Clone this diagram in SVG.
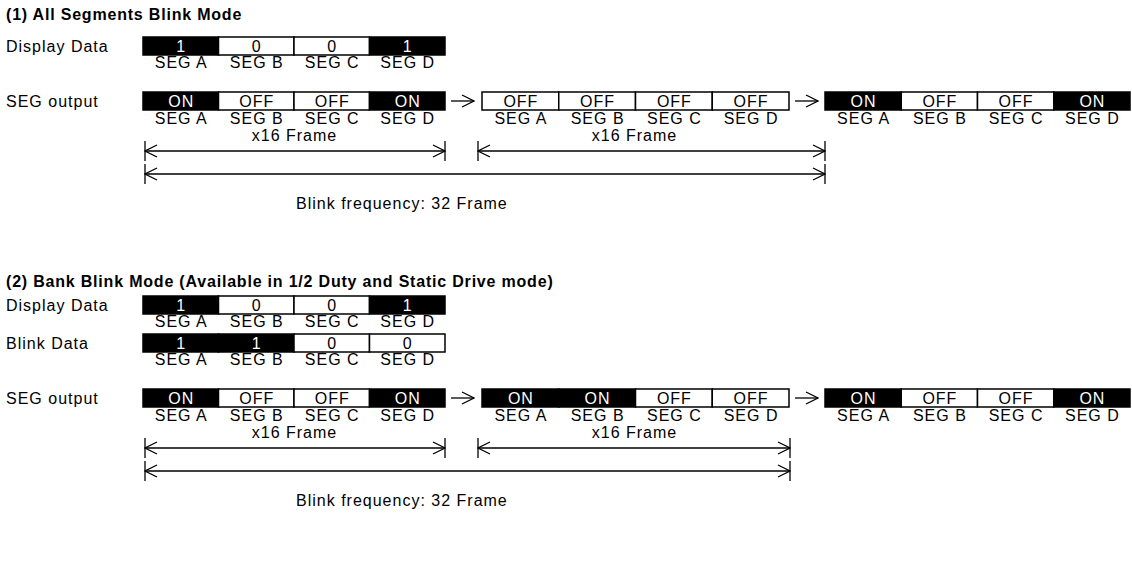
<svg xmlns="http://www.w3.org/2000/svg" width="1132" height="561" viewBox="0 0 1132 561">
<defs>
<style>
text{font-family:"Liberation Sans",Arial,sans-serif;font-size:16px;letter-spacing:1px;fill:#000}
.t{font-weight:bold;letter-spacing:0.8px}
.c{text-anchor:middle}
.w{fill:#fff}
.b{fill:#000;stroke:#000;stroke-width:1.5}
.o{fill:#fff;stroke:#000;stroke-width:1.5}
.ln{stroke:#000;stroke-width:1.3;fill:none}
</style>
<marker id="ah" viewBox="0 0 14 14" refX="13" refY="7" markerWidth="14" markerHeight="14" markerUnits="userSpaceOnUse" orient="auto-start-reverse">
<path d="M1,1 L13,7 L1,13" fill="none" stroke="#000" stroke-width="1.3"/>
</marker>
</defs>
<rect width="1132" height="561" fill="#fff"/>

<text class="t" x="6" y="20">(1) All Segments Blink Mode</text>
<text x="6" y="51.5">Display Data</text>
<text x="6" y="106.5">SEG output</text>

<g id="dd1">
<rect class="b" x="143" y="37" width="75.5" height="18"/>
<rect class="o" x="218.5" y="37" width="75.5" height="18"/>
<rect class="o" x="294" y="37" width="75.5" height="18"/>
<rect class="b" x="369.5" y="37" width="75.5" height="18"/>
<text class="c w" x="181.25" y="51.5">1</text>
<text class="c" x="256.75" y="51.5">0</text>
<text class="c" x="332.25" y="51.5">0</text>
<text class="c w" x="407.75" y="51.5">1</text>
<text class="c" x="181.25" y="68">SEG A</text>
<text class="c" x="256.75" y="68">SEG B</text>
<text class="c" x="332.25" y="68">SEG C</text>
<text class="c" x="407.75" y="68">SEG D</text>
</g>

<g id="so1a">
<rect class="b" x="143" y="92" width="75.5" height="18"/>
<rect class="o" x="218.5" y="92" width="75.5" height="18"/>
<rect class="o" x="294" y="92" width="75.5" height="18"/>
<rect class="b" x="369.5" y="92" width="75.5" height="18"/>
<text class="c w" x="181.25" y="106.5">ON</text>
<text class="c" x="256.75" y="106.5">OFF</text>
<text class="c" x="332.25" y="106.5">OFF</text>
<text class="c w" x="407.75" y="106.5">ON</text>
<text class="c" x="181.25" y="124">SEG A</text>
<text class="c" x="256.75" y="124">SEG B</text>
<text class="c" x="332.25" y="124">SEG C</text>
<text class="c" x="407.75" y="124">SEG D</text>
</g>

<g id="so1b">
<rect class="o" x="482" y="92" width="76.75" height="18"/>
<rect class="o" x="558.75" y="92" width="76.75" height="18"/>
<rect class="o" x="635.5" y="92" width="76.75" height="18"/>
<rect class="o" x="712.25" y="92" width="76.75" height="18"/>
<text class="c" x="520.9" y="106.5">OFF</text>
<text class="c" x="597.6" y="106.5">OFF</text>
<text class="c" x="674.4" y="106.5">OFF</text>
<text class="c" x="751.1" y="106.5">OFF</text>
<text class="c" x="520.9" y="124">SEG A</text>
<text class="c" x="597.6" y="124">SEG B</text>
<text class="c" x="674.4" y="124">SEG C</text>
<text class="c" x="751.1" y="124">SEG D</text>
</g>

<g id="so1c">
<rect class="b" x="825" y="92" width="76.25" height="18"/>
<rect class="o" x="901.25" y="92" width="76.25" height="18"/>
<rect class="o" x="977.5" y="92" width="76.25" height="18"/>
<rect class="b" x="1053.75" y="92" width="76.25" height="18"/>
<text class="c w" x="863.6" y="106.5">ON</text>
<text class="c" x="939.9" y="106.5">OFF</text>
<text class="c" x="1016.1" y="106.5">OFF</text>
<text class="c w" x="1092.4" y="106.5">ON</text>
<text class="c" x="863.6" y="124">SEG A</text>
<text class="c" x="939.9" y="124">SEG B</text>
<text class="c" x="1016.1" y="124">SEG C</text>
<text class="c" x="1092.4" y="124">SEG D</text>
</g>

<text class="c" x="294.5" y="140.5">x16 Frame</text>
<text class="c" x="634.5" y="140.5">x16 Frame</text>
<text x="296" y="209">Blink frequency: 32 Frame</text>

<text class="t" x="6" y="287">(2) Bank Blink Mode (Available in 1/2 Duty and Static Drive mode)</text>
<text x="6" y="310.5">Display Data</text>
<text x="6" y="348.5">Blink Data</text>
<text x="6" y="403.5">SEG output</text>

<g id="dd2">
<rect class="b" x="143" y="296" width="75.5" height="18"/>
<rect class="o" x="218.5" y="296" width="75.5" height="18"/>
<rect class="o" x="294" y="296" width="75.5" height="18"/>
<rect class="b" x="369.5" y="296" width="75.5" height="18"/>
<text class="c w" x="181.25" y="310.5">1</text>
<text class="c" x="256.75" y="310.5">0</text>
<text class="c" x="332.25" y="310.5">0</text>
<text class="c w" x="407.75" y="310.5">1</text>
<text class="c" x="181.25" y="327">SEG A</text>
<text class="c" x="256.75" y="327">SEG B</text>
<text class="c" x="332.25" y="327">SEG C</text>
<text class="c" x="407.75" y="327">SEG D</text>
</g>

<g id="bd2">
<rect class="b" x="143" y="334" width="75.5" height="18"/>
<rect class="b" x="218.5" y="334" width="75.5" height="18"/>
<rect class="o" x="294" y="334" width="75.5" height="18"/>
<rect class="o" x="369.5" y="334" width="75.5" height="18"/>
<text class="c w" x="181.25" y="348.5">1</text>
<text class="c w" x="256.75" y="348.5">1</text>
<text class="c" x="332.25" y="348.5">0</text>
<text class="c" x="407.75" y="348.5">0</text>
<text class="c" x="181.25" y="365">SEG A</text>
<text class="c" x="256.75" y="365">SEG B</text>
<text class="c" x="332.25" y="365">SEG C</text>
<text class="c" x="407.75" y="365">SEG D</text>
</g>

<g id="so2a">
<rect class="b" x="143" y="389" width="75.5" height="18"/>
<rect class="o" x="218.5" y="389" width="75.5" height="18"/>
<rect class="o" x="294" y="389" width="75.5" height="18"/>
<rect class="b" x="369.5" y="389" width="75.5" height="18"/>
<text class="c w" x="181.25" y="403.5">ON</text>
<text class="c" x="256.75" y="403.5">OFF</text>
<text class="c" x="332.25" y="403.5">OFF</text>
<text class="c w" x="407.75" y="403.5">ON</text>
<text class="c" x="181.25" y="421">SEG A</text>
<text class="c" x="256.75" y="421">SEG B</text>
<text class="c" x="332.25" y="421">SEG C</text>
<text class="c" x="407.75" y="421">SEG D</text>
</g>

<g id="so2b">
<rect class="b" x="482" y="389" width="76.75" height="18"/>
<rect class="b" x="558.75" y="389" width="76.75" height="18"/>
<rect class="o" x="635.5" y="389" width="76.75" height="18"/>
<rect class="o" x="712.25" y="389" width="76.75" height="18"/>
<text class="c w" x="520.9" y="403.5">ON</text>
<text class="c w" x="597.6" y="403.5">ON</text>
<text class="c" x="674.4" y="403.5">OFF</text>
<text class="c" x="751.1" y="403.5">OFF</text>
<text class="c" x="520.9" y="421">SEG A</text>
<text class="c" x="597.6" y="421">SEG B</text>
<text class="c" x="674.4" y="421">SEG C</text>
<text class="c" x="751.1" y="421">SEG D</text>
</g>

<g id="so2c">
<rect class="b" x="825" y="389" width="76.25" height="18"/>
<rect class="o" x="901.25" y="389" width="76.25" height="18"/>
<rect class="o" x="977.5" y="389" width="76.25" height="18"/>
<rect class="b" x="1053.75" y="389" width="76.25" height="18"/>
<text class="c w" x="863.6" y="403.5">ON</text>
<text class="c" x="939.9" y="403.5">OFF</text>
<text class="c" x="1016.1" y="403.5">OFF</text>
<text class="c w" x="1092.4" y="403.5">ON</text>
<text class="c" x="863.6" y="421">SEG A</text>
<text class="c" x="939.9" y="421">SEG B</text>
<text class="c" x="1016.1" y="421">SEG C</text>
<text class="c" x="1092.4" y="421">SEG D</text>
</g>

<text class="c" x="294.5" y="437.5">x16 Frame</text>
<text class="c" x="634.5" y="437.5">x16 Frame</text>
<text x="296" y="506">Blink frequency: 32 Frame</text>

<g id="connectors" class="ln">
<line x1="451" y1="101" x2="474" y2="101" marker-end="url(#ah)"/>
<line x1="795" y1="101" x2="818" y2="101" marker-end="url(#ah)"/>
<line x1="145" y1="151" x2="445" y2="151" marker-start="url(#ah)" marker-end="url(#ah)"/>
<line x1="145" y1="141" x2="145" y2="161"/>
<line x1="445" y1="141" x2="445" y2="161"/>
<line x1="478" y1="151" x2="825" y2="151" marker-start="url(#ah)" marker-end="url(#ah)"/>
<line x1="478" y1="141" x2="478" y2="161"/>
<line x1="825" y1="141" x2="825" y2="161"/>
<line x1="145" y1="174" x2="825" y2="174" marker-start="url(#ah)" marker-end="url(#ah)"/>
<line x1="145" y1="164" x2="145" y2="184"/>
<line x1="825" y1="164" x2="825" y2="184"/>

<line x1="451" y1="398" x2="474" y2="398" marker-end="url(#ah)"/>
<line x1="795" y1="398" x2="818" y2="398" marker-end="url(#ah)"/>
<line x1="145" y1="448" x2="445" y2="448" marker-start="url(#ah)" marker-end="url(#ah)"/>
<line x1="145" y1="438" x2="145" y2="458"/>
<line x1="445" y1="438" x2="445" y2="458"/>
<line x1="478" y1="448" x2="790" y2="448" marker-start="url(#ah)" marker-end="url(#ah)"/>
<line x1="478" y1="438" x2="478" y2="458"/>
<line x1="790" y1="438" x2="790" y2="458"/>
<line x1="145" y1="471" x2="790" y2="471" marker-start="url(#ah)" marker-end="url(#ah)"/>
<line x1="145" y1="461" x2="145" y2="481"/>
<line x1="790" y1="461" x2="790" y2="481"/>
</g>
</svg>
